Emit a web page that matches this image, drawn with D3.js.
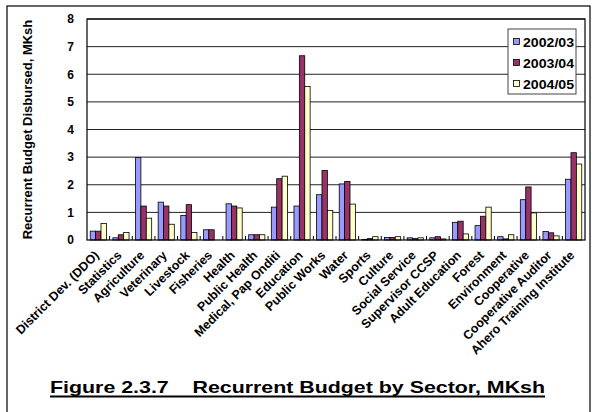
<!DOCTYPE html>
<html><head><meta charset="utf-8">
<script src="https://cdn.jsdelivr.net/npm/d3@7"></script>
<style>body{margin:0;background:#fff}svg{display:block;font-family:"Liberation Sans",Arial,sans-serif}</style>
</head><body><svg id="c" width="595" height="412"></svg>
<script>
const categories = ["District Dev. (DDO)","Statistics","Agriculture","Veterinary","Livestock","Fisheries","Health","Public Health","Medical, Pap Onditi","Education","Public Works","Water","Sports","Culture","Social Service","Supervisor CCSP","Adult Education","Forest","Environment","Cooperative","Cooperative Auditor","Ahero Training Institute"];
const seriesNames = ["2002/03","2003/04","2004/05"];
const s2002 = [0.32,0.08,2.98,1.37,0.89,0.37,1.31,0.19,1.19,1.23,1.64,2.03,0.02,0.09,0.08,0.08,0.64,0.52,0.12,1.46,0.31,2.20];
const s2003 = [0.32,0.19,1.23,1.23,1.28,0.37,1.23,0.19,2.22,6.67,2.52,2.12,0.05,0.09,0.05,0.12,0.68,0.86,0.04,1.92,0.26,3.16];
const s2004 = [0.60,0.27,0.79,0.57,0.27,0.00,1.16,0.19,2.31,5.56,1.07,1.30,0.12,0.12,0.08,0.04,0.22,1.19,0.19,0.98,0.15,2.75];
const yTicks = [0,1,2,3,4,5,6,7,8];
const colors = ["#9999FF","#993366","#FFFFCC"];
const title = "Figure 2.3.7    Recurrent Budget by Sector, MKsh";

const series = [s2002,s2003,s2004];
const svg = d3.select("#c");
const L=87,R=585,T=19,B=240;

// outer frame
svg.append("rect").attr("x",7).attr("y",6).attr("width",583).attr("height",420)
  .attr("fill","none").attr("stroke","#000").attr("stroke-width",1.2);

const x = d3.scaleBand().domain(categories).range([L,R]).paddingInner(0).paddingOuter(0);
const xi = d3.scaleBand().domain(seriesNames).range([0,x.bandwidth()]).paddingInner(0).paddingOuter(0.6);
const y = d3.scaleLinear().domain([0,8]).range([B,T]);

// gridlines
svg.append("g").selectAll("line").data(yTicks.slice(1)).join("line")
  .attr("x1",L).attr("x2",R).attr("y1",d=>y(d)).attr("y2",d=>y(d))
  .attr("stroke","#222").attr("stroke-width",1);

// bars
const g = svg.append("g");
seriesNames.forEach((sn,si)=>{
  g.append("g").selectAll("rect").data(categories).join("rect")
    .attr("x",(c)=>x(c)+xi(sn))
    .attr("y",(c,i)=>y(series[si][i]))
    .attr("width",xi.bandwidth())
    .attr("height",(c,i)=>B-y(series[si][i]))
    .attr("fill",colors[si]).attr("stroke","#000").attr("stroke-width",0.8)
    .attr("display",(c,i)=>series[si][i]>0?null:"none");
});

// plot frame
svg.append("rect").attr("x",L).attr("y",T).attr("width",R-L).attr("height",B-T)
  .attr("fill","none").attr("stroke","#000").attr("stroke-width",1.2);

// y axis
const ya = svg.append("g").attr("transform",`translate(${L},0)`)
  .call(d3.axisLeft(y).tickValues(yTicks).tickSize(0).tickPadding(13));
ya.select(".domain").remove();
ya.selectAll("text").attr("font-size",12).attr("font-weight","bold").attr("font-family","Liberation Sans, Arial");

// x ticks at category boundaries
svg.append("g").selectAll("line").data(categories.slice(1)).join("line")
  .attr("x1",d=>x(d)).attr("x2",d=>x(d)).attr("y1",B-4).attr("y2",B)
  .attr("stroke","#000");

// x labels
svg.append("g").selectAll("text").data(categories).join("text")
  .attr("transform",d=>`translate(${x(d)+x.bandwidth()/2+1.5},${B+16}) rotate(-45)`)
  .attr("text-anchor","end").attr("font-size",12.5).attr("font-weight","bold")
  .text(d=>d);

// y title
svg.append("text").attr("transform",`translate(32,${(T+B)/2}) rotate(-90)`)
  .attr("text-anchor","middle").attr("font-size",13).attr("font-weight","bold")
  .text("Recurrent Budget Disbursed, MKsh");

// legend
const lg = svg.append("g").attr("transform","translate(508,29)");
lg.append("rect").attr("width",68).attr("height",65).attr("fill","#fff").attr("stroke","#444").attr("stroke-width",1);
seriesNames.forEach((sn,i)=>{
  lg.append("rect").attr("x",5.5).attr("y",9.5+i*21).attr("width",6).attr("height",6)
    .attr("fill",colors[i]).attr("stroke","#000").attr("stroke-width",0.8);
  lg.append("text").attr("x",15).attr("y",17.5+i*21).attr("font-size",13).attr("font-weight","bold")
    .attr("textLength",51).attr("lengthAdjust","spacingAndGlyphs").text(sn);
});

// title
const tt = svg.append("text").attr("x",50).attr("y",393)
  .attr("font-size",16.5).attr("font-weight","bold").style("white-space","pre")
  .attr("textLength",495).attr("lengthAdjust","spacingAndGlyphs").text(title);
svg.append("line").attr("x1",50).attr("x2",545).attr("y1",396.5).attr("y2",396.5)
  .attr("stroke","#000").attr("stroke-width",2);
</script></body></html>
